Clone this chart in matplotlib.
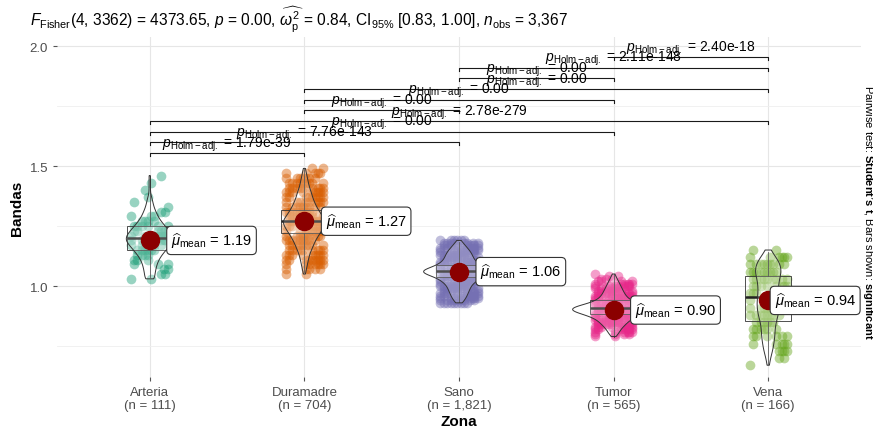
import numpy as np
import matplotlib
matplotlib.use("Agg")
import matplotlib.pyplot as plt
from matplotlib.patches import Polygon

plt.rcParams["font.family"] = ["Liberation Sans", "DejaVu Sans"]
plt.rcParams["mathtext.fontset"] = "custom"
plt.rcParams["mathtext.rm"] = "Liberation Sans"
plt.rcParams["mathtext.it"] = "Liberation Sans:italic"
plt.rcParams["mathtext.bf"] = "Liberation Sans:bold"

zonas = ["Arteria", "Duramadre", "Sano", "Tumor", "Vena"]
n_obs = [111, 704, 1821, 565, 166]
colores = ["#1B9E77", "#D95F02", "#7570B3", "#E7298A", "#66A61E"]
medias = [1.19, 1.27, 1.06, 0.90, 0.94]

# box statistics
q1 = [1.150, 1.221, 1.0375, 0.883, 0.854]
mediana = [1.200, 1.271, 1.0625, 0.908, 0.954]
q3 = [1.250, 1.317, 1.0875, 0.942, 1.042]
bigote_inf = [1.037, 1.058, 0.933, 0.787, 0.675]
bigote_sup = [1.458, 1.487, 1.183, 1.050, 1.140]

# distribution of Bandas per zone: value -> relative frequency
arteria_y = [1.03, 1.05, 1.07, 1.09, 1.11, 1.13, 1.15, 1.17, 1.19, 1.21, 1.23, 1.25, 1.27, 1.29, 1.31, 1.33, 1.35, 1.37, 1.40, 1.43, 1.46]
arteria_f = [5, 5, 6, 7, 9, 12, 16, 20, 24, 23, 19, 15, 11, 8, 6, 4, 3, 2, 1, 1, 1]
duramadre_y = [1.05, 1.07, 1.09, 1.11, 1.13, 1.15, 1.17, 1.19, 1.21, 1.23, 1.25, 1.27, 1.29, 1.31, 1.33, 1.35, 1.37, 1.39, 1.41, 1.43, 1.45, 1.47, 1.49]
duramadre_f = [1, 2, 3, 4, 5, 7, 9, 11, 14, 17, 20, 22, 18, 15, 12, 10, 8, 7, 5, 4, 3, 2, 1]
sano_y = [0.93, 0.94, 0.95, 0.96, 0.97, 0.98, 0.99, 1.00, 1.01, 1.02, 1.03, 1.04, 1.05, 1.06, 1.07, 1.08, 1.09, 1.10, 1.11, 1.12, 1.13, 1.14, 1.15, 1.16, 1.17, 1.18, 1.19]
sano_f = [4, 5, 7, 8, 9, 10, 11, 12, 14, 17, 20, 26, 33, 41, 33, 26, 20, 17, 15, 14, 13, 12, 10, 8, 6, 4, 2]
tumor_y = [0.79, 0.80, 0.81, 0.82, 0.83, 0.84, 0.85, 0.86, 0.87, 0.88, 0.89, 0.90, 0.91, 0.92, 0.93, 0.94, 0.95, 0.96, 0.97, 0.98, 0.99, 1.00, 1.01, 1.02, 1.03, 1.04, 1.05]
tumor_f = [2, 4, 5, 6, 8, 10, 12, 14, 18, 24, 31, 38, 36, 27, 19, 14, 12, 10, 9, 8, 7, 6, 5, 4, 3, 2, 1]
vena_y = [0.67, 0.70, 0.73, 0.76, 0.79, 0.82, 0.85, 0.88, 0.91, 0.94, 0.97, 1.00, 1.03, 1.06, 1.09, 1.12, 1.15]
vena_f = [1, 2, 4, 5, 6, 6, 7, 9, 10, 10, 9, 9, 10, 12, 11, 7, 2]

valores = [arteria_y, duramadre_y, sano_y, tumor_y, vena_y]
frecuencias = [arteria_f, duramadre_f, sano_f, tumor_f, vena_f]

# pairwise comparisons (Holm-adjusted p)
pares = [(1, 2), (1, 3), (1, 4), (1, 5), (2, 3), (2, 4), (2, 5), (3, 4), (3, 5), (4, 5)]
p_textos = ["1.79e-39", "7.76e-143", "0.00", "2.78e-279", "0.00", "0.00", "0.00", "0.00", "2.11e-148", "2.40e-18"]

titulo = (r"$F_{\mathrm{Fisher}}$(4, 3362) = 4373.65, $p$ = 0.00, "
          r"$\widehat{\omega_{\mathrm{p}}^{2}}$ = 0.84, CI$_{95\%}$ [0.83, 1.00], "
          r"$n_{\mathrm{obs}}$ = 3,367")

fig = plt.figure(figsize=(8.73, 4.27), dpi=100)
ax = fig.add_axes([57 / 873, 1 - 378 / 427, (861 - 57) / 873, (378 - 38) / 427])

JITTER = [-0.12, 0.05, -0.03, 0.10, -0.08, 0.01, 0.12, -0.05, 0.07, -0.10, 0.03, 0.09, -0.01]

# points
for g in range(5):
    pos = g + 1
    ys, fs = np.array(valores[g]), np.array(frecuencias[g], dtype=float)
    esperado = n_obs[g] * fs / fs.sum()
    xs_p, ys_p = [], []
    for i, (v, e) in enumerate(zip(ys, esperado)):
        copias = int(np.clip(round(e / 1.5), 1, 9))
        for j in range(copias):
            xs_p.append(pos + JITTER[(3 * i + 5 * j) % len(JITTER)])
            ys_p.append(v)
    ax.plot(xs_p, ys_p, "o", ms=7, color=colores[g], alpha=0.45, mew=0, zorder=2)

# boxes
stats = [dict(med=mediana[g], q1=q1[g], q3=q3[g], whislo=bigote_inf[g], whishi=bigote_sup[g], fliers=[])
         for g in range(5)]
ax.bxp(stats, positions=range(1, 6), widths=0.3, showcaps=False, patch_artist=True, manage_ticks=False,
       boxprops=dict(facecolor=(1, 1, 1, 0.2), edgecolor="#333333", lw=0.6),
       whiskerprops=dict(color="#333333", lw=0.6),
       medianprops=dict(color="#222222", lw=1.8), zorder=3)

# violins (gaussian kde, equal area, trimmed to data range)
dens = []
for g in range(5):
    ys, fs = np.array(valores[g]), np.array(frecuencias[g], dtype=float)
    w = fs / fs.sum()
    bw = max(0.011, 0.75 * np.median(np.diff(ys)))
    grid = np.linspace(ys.min(), ys.max(), 300)
    d = (w[None, :] * np.exp(-0.5 * ((grid[:, None] - ys[None, :]) / bw) ** 2)).sum(1) / (np.sqrt(2 * np.pi) * bw)
    dens.append((grid, d))
dmax = max(d.max() for _, d in dens)
for g, (grid, d) in enumerate(dens):
    pos = g + 1
    half = 0.265 * d / dmax
    pts = np.concatenate([np.column_stack([pos - half, grid]), np.column_stack([pos + half, grid])[::-1]])
    ax.add_patch(Polygon(pts, closed=True, fc=(1, 1, 1, 0.2), ec="#333333", lw=0.7, zorder=4))

# means + labels
for g in range(5):
    pos = g + 1
    ax.plot(pos, medias[g], "o", ms=13, color="#8B0000", zorder=5)
    lab = r"$\widehat{\mu}_{\mathrm{mean}}$" + f" = {medias[g]:.2f}"
    caja = dict(boxstyle="round,pad=0.3", fc="white", ec="#333333", lw=0.8)
    if g == 4:
        ax.text(5.566, medias[g], lab, ha="right", va="center", fontsize=10.5, zorder=6, bbox=caja)
    else:
        ax.text(pos + 0.138, medias[g], lab, ha="left", va="center", fontsize=10.5, zorder=6, bbox=caja)

# significance brackets
y0, paso, punta = 1.554, 0.0444, 0.012
for k, ((a, b), ptxt) in enumerate(zip(pares, p_textos)):
    yb = y0 + k * paso
    ax.plot([a, a, b, b], [yb - punta, yb, yb, yb - punta], color="#1A1A1A", lw=0.8, zorder=7)
    ax.text((a + b) / 2, yb + 0.002, r"$p_{\mathrm{Holm-adj.}}$" + f" = {ptxt}",
            ha="center", va="bottom", fontsize=10, zorder=8)

ax.set_xlim(0.4, 5.6)
ax.set_ylim(0.621, 2.0375)
for s in ax.spines.values():
    s.set_visible(False)
ax.set_yticks([1.0, 1.5, 2.0])
ax.set_yticks([0.75, 1.25, 1.75], minor=True)
ax.set_xticks(range(1, 6))
ax.set_xticklabels([f"{z}\n(n = {n:,})" for z, n in zip(zonas, n_obs)], linespacing=1.1)
ax.grid(True, which="major", color="#E6E6E6", lw=0.8)
ax.grid(True, which="minor", axis="y", color="#EFEFEF", lw=0.6)
ax.set_axisbelow(True)
ax.tick_params(axis="both", which="major", length=3, color="#555555", labelcolor="#4D4D4D", labelsize=9.5)
ax.tick_params(axis="y", which="minor", length=0)
ax.set_xlabel("Zona", fontsize=11, fontweight="bold", labelpad=2)
ax.set_ylabel("Bandas", fontsize=11, fontweight="bold", labelpad=4)

fig.text(30 / 873, 1 - 20 / 427, titulo, ha="left", va="center", fontsize=11.2)
fig.text(0.9945, 0.503, r"Pairwise test: $\mathbf{Student’s\ t}$, Bars shown: $\mathbf{significant}$",
         rotation=-90, ha="center", va="center", fontsize=8)

fig.savefig("out.png", dpi=100)
